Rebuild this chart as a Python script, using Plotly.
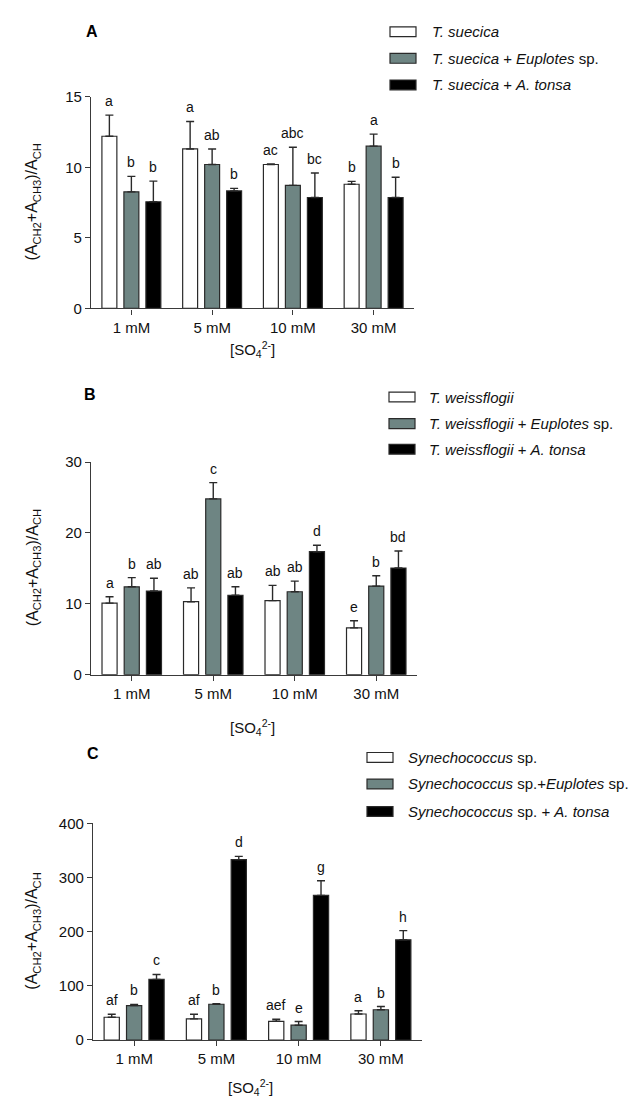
import plotly.graph_objects as go

categories = ["1 mM", "5 mM", "10 mM", "30 mM"]

# ---- Panel A : T. suecica ----
a_names = ["<i>T. suecica</i>",
           "<i>T. suecica</i> + <i>Euplotes</i> sp.",
           "<i>T. suecica</i> + <i>A. tonsa</i>"]
a_alone = [12.2, 11.3, 10.2, 8.8]
a_alone_err = [1.5, 1.95, 0.03, 0.2]
a_eup = [8.26, 10.2, 8.72, 11.5]
a_eup_err = [1.1, 1.1, 2.7, 0.85]
a_ton = [7.56, 8.33, 7.86, 7.86]
a_ton_err = [1.46, 0.18, 1.74, 1.44]
a_let_alone = ["a", "a", "ac", "b"]
a_let_eup = ["b", "ab", "abc", "a"]
a_let_ton = ["b", "b", "bc", "b"]
a_yticks = [0, 5, 10, 15]

# ---- Panel B : T. weissflogii ----
b_names = ["<i>T. weissflogii</i>",
           "<i>T. weissflogii</i> + <i>Euplotes</i> sp.",
           "<i>T. weissflogii</i> + <i>A. tonsa</i>"]
b_alone = [10.1, 10.3, 10.45, 6.6]
b_alone_err = [0.9, 1.95, 2.15, 1.0]
b_eup = [12.4, 24.8, 11.7, 12.5]
b_eup_err = [1.3, 2.3, 1.5, 1.45]
b_ton = [11.8, 11.2, 17.35, 15.05]
b_ton_err = [1.8, 1.2, 0.9, 2.4]
b_let_alone = ["a", "ab", "ab", "e"]
b_let_eup = ["b", "c", "ab", "b"]
b_let_ton = ["ab", "ab", "d", "bd"]
b_yticks = [0, 10, 20, 30]

# ---- Panel C : Synechococcus sp. ----
c_names = ["<i>Synechococcus</i> sp.",
           "<i>Synechococcus</i> sp.+<i>Euplotes</i> sp.",
           "<i>Synechococcus</i> sp. + <i>A. tonsa</i>"]
c_alone = [42, 39, 34.5, 48]
c_alone_err = [5.5, 8.5, 3.7, 6]
c_eup = [63.6, 66, 27.3, 55.8]
c_eup_err = [2, 1.2, 6.7, 6]
c_ton = [112, 333, 267, 185]
c_ton_err = [9, 6, 27, 17]
c_let_alone = ["af", "af", "aef", "a"]
c_let_eup = ["b", "b", "e", "b"]
c_let_ton = ["c", "d", "g", "h"]
c_yticks = [0, 100, 200, 300, 400]

panel_letters = ["A", "B", "C"]

# ---------------- layout / style ----------------
W, H = 642, 1102
FONT = "Arial, Liberation Sans, sans-serif"
fills = ["#ffffff", "#6e8583", "#000000"]
BARGAP = 0.183
SLOT = (1 - BARGAP) / 3

panels = [
    dict(names=a_names, means=[a_alone, a_eup, a_ton],
         errs=[a_alone_err, a_eup_err, a_ton_err],
         lets=[a_let_alone, a_let_eup, a_let_ton], yticks=a_yticks,
         xd=(83, 406), yd=(81, 296), letter=(84, 15),
         leg_box=(382, 408), leg_text=422, leg_rows=(15, 42, 69),
         ytitle_x=25, xtitle=(244, 338)),
    dict(names=b_names, means=[b_alone, b_eup, b_ton],
         errs=[b_alone_err, b_eup_err, b_ton_err],
         lets=[b_let_alone, b_let_eup, b_let_ton], yticks=b_yticks,
         xd=(83, 409), yd=(452, 668), letter=(82, 383),
         leg_box=(381, 407), leg_text=419, leg_rows=(386, 413, 439),
         ytitle_x=25, xtitle=(244, 722)),
    dict(names=c_names, means=[c_alone, c_eup, c_ton],
         errs=[c_alone_err, c_eup_err, c_ton_err],
         lets=[c_let_alone, c_let_eup, c_let_ton], yticks=c_yticks,
         xd=(85, 414), yd=(819, 1039), letter=(85, 748),
         leg_box=(359, 385), leg_text=398, leg_rows=(752, 779, 807),
         ytitle_x=25, xtitle=(242, 1087)),
]

def px(x):
    return x / W

def py(y):
    return 1 - y / H

fig = go.Figure()
annotations = []
shapes = []
layout = {}

for p_i, p in enumerate(panels):
    sfx = "" if p_i == 0 else str(p_i + 1)
    xa, ya = "x" + sfx, "y" + sfx
    for j in range(3):
        fig.add_trace(go.Bar(
            x=categories, y=p["means"][j], name=p["names"][j],
            xaxis=xa, yaxis=ya, offsetgroup=str(j),
            marker=dict(color=fills[j], line=dict(color="#2a2a2a", width=1.2)),
            error_y=dict(type="data", symmetric=False, array=p["errs"][j],
                         arrayminus=[0] * len(categories),
                         color="#2a2a2a", thickness=1.4, width=4),
            showlegend=False, hoverinfo="skip"))
        for i, cat in enumerate(categories):
            annotations.append(dict(
                xref=xa, yref=ya, x=i + (j - 1) * SLOT,
                y=p["means"][j][i] + p["errs"][j][i],
                text=p["lets"][j][i], showarrow=False, yanchor="bottom",
                yshift=4, font=dict(family=FONT, size=14, color="#111")))
    ymax = p["yticks"][-1]
    layout["xaxis" + sfx] = dict(
        domain=[px(p["xd"][0]), px(p["xd"][1])], anchor=ya, type="category",
        categoryorder="array", categoryarray=categories, range=[-0.5, 3.5],
        showline=True, linecolor="#3a3a3a", linewidth=1.3, ticks="outside",
        ticklen=5, tickwidth=1.3, tickcolor="#3a3a3a", showgrid=False,
        zeroline=False, tickfont=dict(family=FONT, size=15, color="#111"))
    layout["yaxis" + sfx] = dict(
        domain=[py(p["yd"][1]), py(p["yd"][0])], anchor=xa, range=[0, ymax],
        tickvals=p["yticks"], showline=True, linecolor="#3a3a3a", linewidth=1.3,
        ticks="outside", ticklen=5, tickwidth=1.3, tickcolor="#3a3a3a",
        showgrid=False, zeroline=False,
        tickfont=dict(family=FONT, size=15, color="#111"))
    # panel letter
    annotations.append(dict(xref="paper", yref="paper", x=px(p["letter"][0]),
                            y=py(p["letter"][1]), text="<b>%s</b>" % panel_letters[p_i],
                            showarrow=False, xanchor="center", yanchor="middle",
                            font=dict(family=FONT, size=16, color="#000")))
    # y title
    annotations.append(dict(xref="paper", yref="paper", x=px(p["ytitle_x"]),
                            y=py((p["yd"][0] + p["yd"][1]) / 2),
                            text="(A<sub>CH2</sub>+A<sub>CH3</sub>)/A<sub>CH</sub>",
                            textangle=-90, showarrow=False, xanchor="center",
                            yanchor="middle",
                            font=dict(family=FONT, size=16, color="#111")))
    # x title
    annotations.append(dict(xref="paper", yref="paper",
                            x=px(p["xtitle"][0]), y=py(p["xtitle"][1]),
                            text="[SO<sub>4</sub><sup>2-</sup>]",
                            showarrow=False, xanchor="center", yanchor="middle",
                            font=dict(family=FONT, size=15, color="#111")))
    # legend (manual)
    for j in range(3):
        ry = p["leg_rows"][j]
        shapes.append(dict(type="rect", xref="paper", yref="paper",
                           x0=px(p["leg_box"][0]), x1=px(p["leg_box"][1]),
                           y0=py(ry + 5), y1=py(ry - 5),
                           fillcolor=fills[j], line=dict(color="#2a2a2a", width=1.2)))
        annotations.append(dict(xref="paper", yref="paper", x=px(p["leg_text"]),
                                y=py(ry), text=p["names"][j], showarrow=False,
                                xanchor="left", yanchor="middle",
                                font=dict(family=FONT, size=15, color="#111")))

fig.update_layout(
    width=W, height=H, margin=dict(l=0, r=0, t=0, b=0),
    paper_bgcolor="white", plot_bgcolor="white",
    barmode="group", bargap=BARGAP, bargroupgap=0.32,
    annotations=annotations, shapes=shapes, showlegend=False,
    font=dict(family=FONT, color="#111"), **layout)

fig.write_html("out.html")
